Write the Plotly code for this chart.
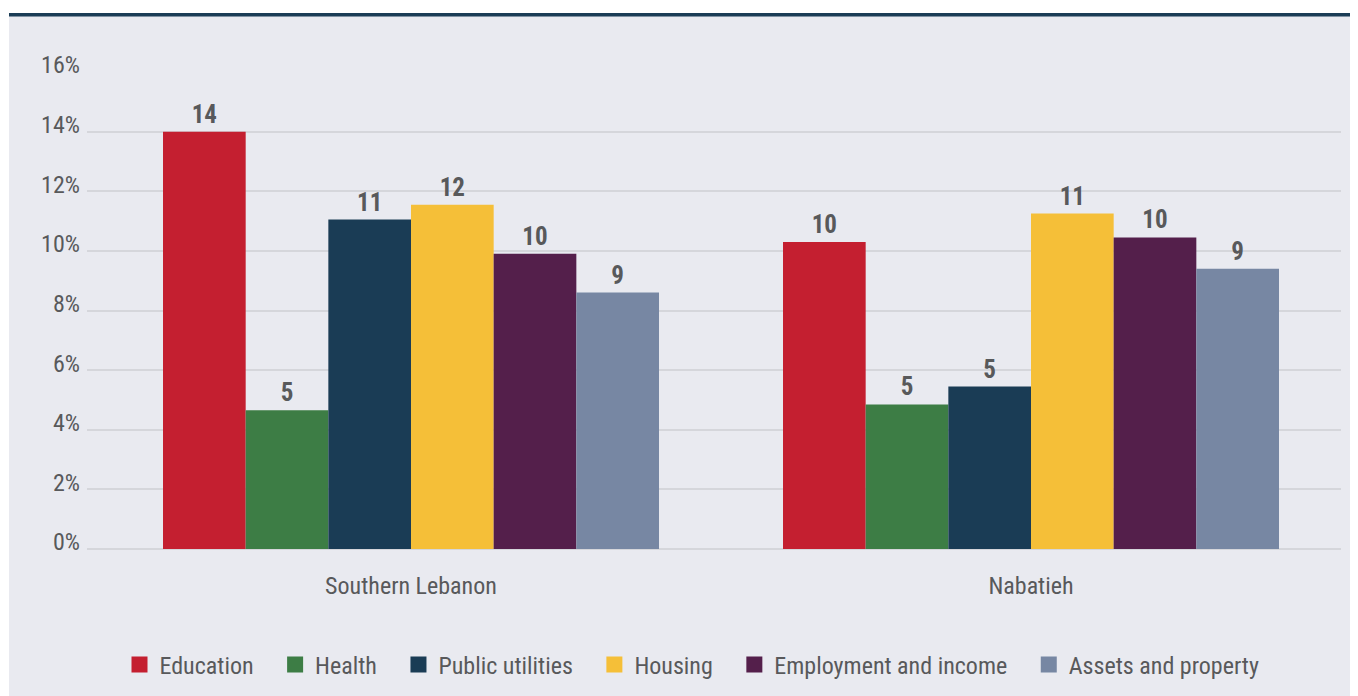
import plotly.graph_objects as go

regions = ["Southern Lebanon", "Nabatieh"]
series_names = ["Education", "Health", "Public utilities", "Housing",
                "Employment and income", "Assets and property"]
education = [14.0, 10.3]
health = [4.65, 4.85]
public_utilities = [11.05, 5.45]
housing = [11.55, 11.25]
employment = [9.9, 10.45]
assets = [8.6, 9.4]
colors = ["#C41F30", "#3D7D45", "#1A3C55", "#F5BF38", "#541F4B", "#7787A3"]
y_ticks = [0, 2, 4, 6, 8, 10, 12, 14, 16]
y_tick_labels = [f"{v}%" for v in y_ticks]

FONT = "Liberation Sans Narrow, Roboto Condensed, Roboto, sans-serif"
TXT = "#58595B"

fig = go.Figure()
for name, vals, col in zip(series_names,
                           [education, health, public_utilities, housing, employment, assets],
                           colors):
    fig.add_trace(go.Bar(
        x=regions, y=vals, name=name, marker=dict(color=col, line=dict(width=0)),
        text=[f"{round(v):d}" for v in vals], textposition="outside",
        textfont=dict(family=FONT, size=25, color=TXT, weight="bold"),
        cliponaxis=False, showlegend=False,
    ))
# legend entries with larger square swatches (padding keeps the spacing of the original)
for i, (name, col) in enumerate(zip(series_names, colors)):
    pad = "\u00a0\u00a0\u00a0" if i < len(series_names) - 1 else ""
    fig.add_trace(go.Scatter(
        x=[None], y=[None], mode="markers", name=name + pad,
        marker=dict(symbol="square", size=17, color=col),
    ))

OFF = 8  # page body margin
W, H = 1358 - OFF, 696 - OFF
L, T = 87 - OFF, 72 - OFF
R = W - (1341 - OFF)
B = H - (549 - OFF)
pw, ph = W - L - R, H - T - B

def px(p):
    return (p - OFF - L) / pw

def py(q):
    return (H - B - (q - OFF)) / ph

fig.update_layout(
    width=W, height=H,
    margin=dict(l=L, r=R, t=T, b=B, autoexpand=False),
    paper_bgcolor="white",
    plot_bgcolor="rgba(0,0,0,0)",
    barmode="group", bargap=0.2, bargroupgap=0,
    font=dict(family=FONT, size=24, color=TXT),
    showlegend=True,
    legend=dict(orientation="h", x=px(692), xanchor="center", y=py(665), yanchor="middle",
                font=dict(family=FONT, size=24, color=TXT), bgcolor="rgba(0,0,0,0)",
                itemclick=False, itemdoubleclick=False, tracegroupgap=0),
    xaxis=dict(type="category", range=[-0.5226, 1.5], showgrid=False, zeroline=False,
               showline=False, ticks="outside", ticklen=15, tickcolor="rgba(0,0,0,0)",
               automargin=False,
               tickfont=dict(family=FONT, size=24, color=TXT)),
    yaxis=dict(range=[0, 16], tickvals=y_ticks, ticktext=y_tick_labels,
               showgrid=True, gridcolor="#D5D6DB", gridwidth=1.5,
               zeroline=True, zerolinecolor="#D5D6DB", zerolinewidth=1.5,
               showline=False, ticks="", ticklabelstandoff=6, ticklabelshift=-7,
               automargin=False,
               tickfont=dict(family=FONT, size=24, color=TXT)),
    shapes=[
        dict(type="rect", xref="paper", yref="paper", x0=px(9), x1=px(1370),
             y0=py(710), y1=py(13), fillcolor="#E9EAF0", line=dict(width=0), layer="below"),
        dict(type="rect", xref="paper", yref="paper", x0=px(9), x1=px(1370),
             y0=py(16.5), y1=py(13), fillcolor="#1B3D56", line=dict(width=0), layer="above"),
    ],
)

fig.write_html("out.html")
